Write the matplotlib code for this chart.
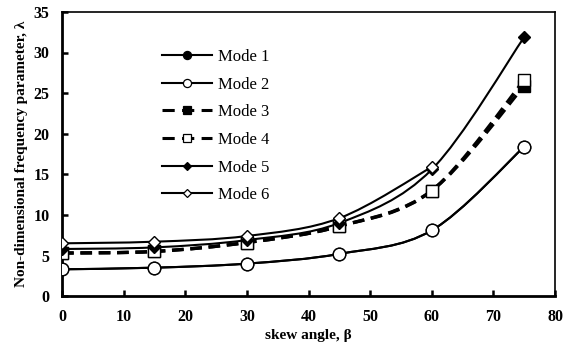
import numpy as np
import matplotlib
matplotlib.use("Agg")
import matplotlib.pyplot as plt
from matplotlib.path import Path
from matplotlib.patches import PathPatch
from matplotlib.lines import Line2D

plt.rcParams['font.family'] = ['Liberation Serif', 'DejaVu Serif']

skew = [0, 15, 30, 45, 60, 75]
mode1 = [3.3, 3.5, 4.0, 5.2, 8.1, 18.4]
mode2 = [3.3, 3.5, 4.0, 5.2, 8.1, 18.4]
mode3 = [5.3, 5.5, 6.6, 8.6, 13.0, 25.9]
mode4 = [5.3, 5.5, 6.6, 8.6, 13.0, 26.6]
mode5 = [5.8, 6.0, 6.9, 9.0, 15.6, 31.9]
mode6 = [6.5, 6.7, 7.4, 9.6, 15.9, np.nan]
labels = ['Mode 1', 'Mode 2', 'Mode 3', 'Mode 4', 'Mode 5', 'Mode 6']


def smooth_path(x, y):
    # excel-like smoothed line: cubic bezier through the points
    x = np.asarray(x, float)
    y = np.asarray(y, float)
    ok = ~np.isnan(y)
    p = np.column_stack([x[ok], y[ok]])
    verts = [p[0]]
    codes = [Path.MOVETO]
    n = len(p)
    for i in range(n - 1):
        p0 = p[i - 1] if i > 0 else p[i]
        p3 = p[i + 2] if i + 2 < n else p[i + 1]
        c1 = p[i] + (p[i + 1] - p0) / 6
        c2 = p[i + 1] - (p3 - p[i]) / 6
        verts += [c1, c2, p[i + 1]]
        codes += [Path.CURVE4] * 3
    return Path(verts, codes)


fig = plt.figure(figsize=(5.8, 3.5), dpi=100)
ax = fig.add_axes([0.107, 0.154, 0.85, 0.812])

styles = [
    dict(marker='o', mfc='black', ls='-', lw=1.5, ms=9),
    dict(marker='o', mfc='white', ls='-', lw=1.5, ms=9),
    dict(marker='s', mfc='black', ls='--', lw=2.4, ms=8.5),
    dict(marker='s', mfc='white', ls='--', lw=2.4, ms=8.5),
    dict(marker='D', mfc='black', ls='-', lw=1.5, ms=6.5),
    dict(marker='D', mfc='white', ls='-', lw=1.5, ms=6.5),
]
series = [mode1, mode2, mode3, mode4, mode5, mode6]

handles = []
for k, (vals, st) in enumerate(zip(series, styles)):
    patch = PathPatch(smooth_path(skew, vals), fill=False, edgecolor='black',
                      lw=st['lw'], ls=st['ls'], zorder=2 + k * 0.1,
                      capstyle='butt')
    if st['ls'] == '--':
        patch.set_linestyle((0, (3.5, 2.0)))
    ax.add_patch(patch)
    ax.plot(skew, vals, ls='none', marker=st['marker'], ms=st['ms'],
            mfc=st['mfc'], mec='black', mew=1.0, zorder=3 + k * 0.1)
    handles.append(Line2D([], [], color='black', lw=st['lw'] if st['ls'] == '-' else 2.2,
                          ls=st['ls'] if st['ls'] == '-' else (0, (4.0, 2.4)),
                          marker=st['marker'], ms=st['ms'] * 0.65,
                          mfc=st['mfc'], mec='black', mew=0.9))

ax.set_xlim(0, 80)
ax.set_ylim(0, 35)
ax.set_xticks(np.arange(0, 81, 10))
ax.set_yticks(np.arange(0, 36, 5))
ax.tick_params(direction='in', length=4, width=1.8, labelsize=11.5)
ax.tick_params(axis='x', pad=9)
ax.tick_params(axis='y', pad=9)
for lab in ax.get_xticklabels() + ax.get_yticklabels():
    lab.set_fontweight('bold')
for s in ['left', 'bottom']:
    ax.spines[s].set_linewidth(2.0)
for s in ['top', 'right']:
    ax.spines[s].set_linewidth(1.2)

ax.set_xlabel('skew angle, β', fontsize=11, fontweight='bold', labelpad=3)
ax.set_ylabel('Non-dimensional frequency parameter, λ', fontsize=11,
              fontweight='bold', labelpad=4)

ax.legend(handles, labels, loc='upper left', bbox_to_anchor=(0.19, 0.893),
          frameon=False, fontsize=12, handlelength=3.0, handletextpad=0.35,
          labelspacing=0.7, borderaxespad=0)

fig.savefig('out.png', dpi=100)
